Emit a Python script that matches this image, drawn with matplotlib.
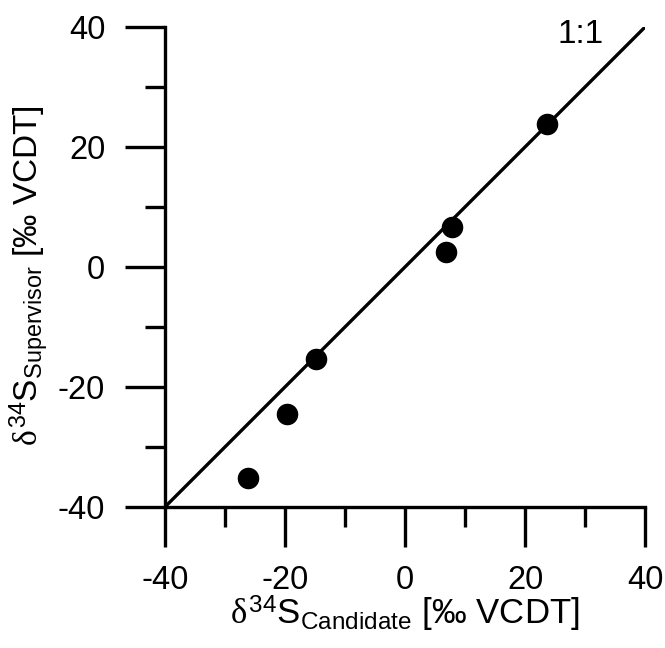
import matplotlib
matplotlib.use('Agg')
import matplotlib.pyplot as plt
from matplotlib.ticker import MultipleLocator

plt.rcParams['font.family'] = ['Liberation Sans', 'DejaVu Sans']
plt.rcParams['mathtext.fontset'] = 'custom'
plt.rcParams['mathtext.rm'] = 'Liberation Sans'
plt.rcParams['mathtext.it'] = 'Liberation Serif'
plt.rcParams['axes.unicode_minus'] = False

# isotope data, per mil VCDT
candidate = [-26.1, -19.6, -14.9, 6.8, 7.9, 23.7]
supervisor = [-35.1, -24.5, -15.4, 2.5, 6.7, 23.8]
one_to_one = [-40, 40]
ticks = [-40, -20, 0, 20, 40]

fig = plt.figure(figsize=(6.65, 6.48), dpi=100)
ax = fig.add_axes([0.248, 0.2176, 0.722, 0.7407])

lw = 2.4
ax.plot(one_to_one, one_to_one, color='black', lw=lw, zorder=2)
ax.plot(candidate, supervisor, 'o', color='black', ms=14.5, zorder=3)

ax.set_xlim(-40, 40)
ax.set_ylim(-40, 40)
ax.set_xticks(ticks)
ax.set_yticks(ticks)
ax.xaxis.set_minor_locator(MultipleLocator(10))
ax.yaxis.set_minor_locator(MultipleLocator(10))
ax.tick_params(which='major', direction='out', length=29, width=lw,
               labelsize=23.5, pad=13)
ax.tick_params(which='minor', direction='out', length=14.5, width=lw)
ax.tick_params(axis='y', which='major', pad=14)

for s in ['top', 'right']:
    ax.spines[s].set_visible(False)
for s in ['left', 'bottom']:
    ax.spines[s].set_linewidth(lw)

ax.text(29.2, 38.8, '1:1', fontsize=24, ha='center', va='center', clip_on=False)

ax.set_xlabel(r'$\delta^{34}\mathrm{S}_{\mathrm{Candidate}}$ [‰ VCDT]', fontsize=25, labelpad=-2)
ax.set_ylabel(r'$\delta^{34}\mathrm{S}_{\mathrm{Supervisor}}$ [‰ VCDT]', fontsize=24)
ax.yaxis.set_label_coords(-0.24, 0.483)

fig.savefig('out.png', dpi=100)
